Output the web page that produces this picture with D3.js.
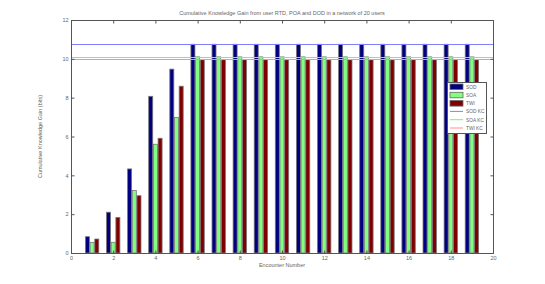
<!DOCTYPE html>
<html><head><meta charset="utf-8">
<script src="https://cdn.jsdelivr.net/npm/d3@7"></script>
<style>body{margin:0;background:#fff;}svg{display:block;font-family:"Liberation Sans",Arial,sans-serif;}</style>
</head><body><svg id="c" width="545" height="284"></svg>
<script>
const encounters = d3.range(1, 20);
const seriesNames = ["SOD", "SOA", "TWI"];
const sod = [0.84, 2.1, 4.33, 8.07, 9.47, 10.75, 10.75, 10.75, 10.75, 10.75, 10.75, 10.75, 10.75, 10.75, 10.75, 10.75, 10.75, 10.75, 10.75];
const soa = [0.55, 0.55, 3.22, 5.6, 6.98, 10.1, 10.1, 10.1, 10.1, 10.1, 10.1, 10.1, 10.1, 10.1, 10.1, 10.1, 10.1, 10.1, 10.1];
const twi = [0.72, 1.83, 2.95, 5.91, 8.59, 9.95, 9.95, 9.95, 9.95, 9.95, 9.95, 9.95, 9.95, 9.95, 9.95, 9.95, 9.95, 9.95, 9.95];
const kcNames = ["SOD KC", "SOA KC", "TWI KC"];
const kcValues = [10.76, 10.12, 9.97];
const xTicks = d3.range(0, 21, 2);
const yTicks = d3.range(0, 13, 2);

const barColors = ["#000080", "#80ff80", "#800000"];
const lineColors = ["#8080ff", "#66ff66", "#ff9090"];
const svg = d3.select("#c");
const L = 71, R = 493, T = 20, B = 253;
const x = d3.scaleLinear().domain([0, 20]).range([L, R]);
const y = d3.scaleLinear().domain([0, 12]).range([B, T]);
const axisCol = "#555";
const txtCol = "#666";
const fs = 5.5;

const series = [sod, soa, twi];
const off = [-0.222, 0, 0.222];
const bw = 0.19;
series.forEach((vals, s) => {
  svg.append("g").selectAll("rect").data(vals).join("rect")
    .attr("x", (d, i) => x(encounters[i] + off[s] - bw / 2))
    .attr("width", x(bw) - x(0))
    .attr("y", d => y(d))
    .attr("height", d => y(0) - y(d))
    .attr("fill", barColors[s])
    .attr("stroke", "#777").attr("stroke-width", 0.8);
});

kcValues.forEach((v, i) => {
  svg.append("line").attr("x1", L).attr("x2", R)
    .attr("y1", Math.round(y(v)) + 0.5).attr("y2", Math.round(y(v)) + 0.5)
    .attr("stroke", lineColors[i]).attr("stroke-width", 1);
});

svg.append("rect").attr("x", L + 0.5).attr("y", T + 0.5).attr("width", R - L).attr("height", B - T)
  .attr("fill", "none").attr("stroke", axisCol).attr("stroke-width", 1);

const xa = svg.append("g").attr("transform", `translate(0,${B + 0.5})`)
  .call(d3.axisBottom(x).tickValues(xTicks).tickSize(-3).tickPadding(3).tickFormat(d3.format("d")));
const xt = svg.append("g").attr("transform", `translate(0,${T + 0.5})`)
  .call(d3.axisTop(x).tickValues(xTicks).tickSize(-3).tickFormat(""));
const ya = svg.append("g").attr("transform", `translate(${L + 0.5},0)`)
  .call(d3.axisLeft(y).tickValues(yTicks).tickSize(-3).tickPadding(3).tickFormat(d3.format("d")));
const yr = svg.append("g").attr("transform", `translate(${R + 0.5},0)`)
  .call(d3.axisRight(y).tickValues(yTicks).tickSize(-3).tickFormat(""));
[xa, xt, ya, yr].forEach(g => {
  g.select(".domain").remove();
  g.selectAll("line").attr("stroke", axisCol);
  g.selectAll("text").attr("font-size", fs).attr("fill", txtCol).attr("font-family", "Liberation Sans, Arial");
});

svg.append("text").attr("x", 282).attr("y", 15).attr("text-anchor", "middle")
  .attr("font-size", fs).attr("fill", txtCol)
  .text("Cumulative Knowledge Gain from user RTD, POA and DOD in a network of 20 users");
svg.append("text").attr("x", 282).attr("y", 267).attr("text-anchor", "middle")
  .attr("font-size", fs).attr("fill", txtCol).text("Encounter Number");
svg.append("text").attr("transform", `translate(42,${(T + B) / 2}) rotate(-90)`).attr("text-anchor", "middle")
  .attr("font-size", fs).attr("fill", txtCol).text("Cumulative Knowledge Gain (bits)");

const lg = svg.append("g").attr("transform", "translate(447,82)");
lg.append("rect").attr("x", 0.5).attr("y", 0.5).attr("width", 39).attr("height", 51)
  .attr("fill", "#fff").attr("stroke", axisCol);
const rowH = 8.3;
seriesNames.forEach((n, i) => {
  const yy = 4.5 + i * rowH;
  lg.append("rect").attr("x", 3).attr("y", yy - 2.5).attr("width", 13).attr("height", 5.5)
    .attr("fill", barColors[i]).attr("stroke", "#666").attr("stroke-width", 0.8);
  lg.append("text").attr("x", 19).attr("y", yy + 2).attr("font-size", 4.8).attr("fill", txtCol).text(n);
});
kcNames.forEach((n, i) => {
  const yy = 4.5 + (i + 3) * rowH;
  lg.append("line").attr("x1", 3).attr("x2", 16).attr("y1", yy).attr("y2", yy)
    .attr("stroke", lineColors[i]).attr("stroke-width", 1);
  lg.append("text").attr("x", 19).attr("y", yy + 2).attr("font-size", 4.8).attr("fill", txtCol).text(n);
});
</script></body></html>
